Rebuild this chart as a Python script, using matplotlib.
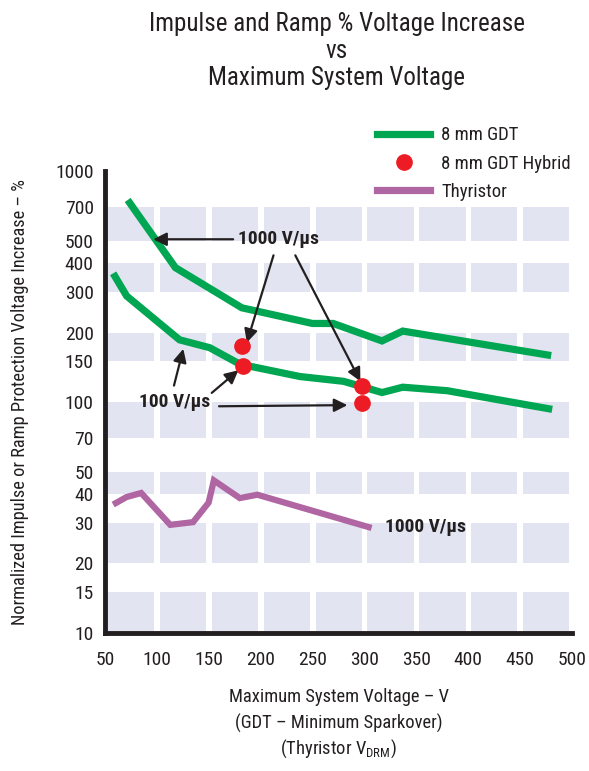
import matplotlib
matplotlib.use("Agg")
import matplotlib.pyplot as plt
from matplotlib.patches import Rectangle
from matplotlib.lines import Line2D

FONTS = ['Roboto Condensed', 'PT Sans Narrow', 'Liberation Sans', 'DejaVu Sans']
plt.rcParams['font.family'] = FONTS
plt.rcParams['mathtext.fontset'] = 'custom'
plt.rcParams['mathtext.rm'] = 'Roboto Condensed'

# ---- data ----
gdt_1000_x = [72, 118, 182, 250, 270, 317, 337, 480]
gdt_1000_y = [750, 382, 256, 219, 219, 184, 203, 159]

gdt_100_x = [58, 71, 122, 151, 180, 238, 280, 317, 337, 380, 481]
gdt_100_y = [361, 288, 186, 172, 146, 129, 123, 110, 116, 112, 93]

hybrid_x = [182, 183, 298, 298]
hybrid_y = [175, 143, 117, 99]

thy_x = [58, 71, 85, 113, 135, 150, 155, 180, 197, 307]
thy_y = [36, 38.8, 40.4, 29.4, 30.2, 36.7, 45.8, 38.4, 39.7, 28.5]

x_ticks = [50, 100, 150, 200, 250, 300, 350, 400, 450, 500]
y_ticks = [10, 15, 20, 30, 40, 50, 70, 100, 150, 200, 300, 400, 500, 700, 1000]
band_ranges = [(10, 15), (20, 30), (40, 50), (70, 100), (150, 200), (300, 400), (500, 700)]

x_label_lines = ['Maximum System Voltage – V', '(GDT – Minimum Sparkover)',
                 r'(Thyristor V$_{\mathregular{DRM}}$)']

GREEN = '#00A651'
RED = '#ED1C24'
PURPLE = '#B066A2'
BAND = '#E2E4F1'
INK = '#231F20'

fig = plt.figure(figsize=(5.89, 7.71), dpi=100)
ax = fig.add_axes([0.178, 0.179, 0.793, 0.599])
ax.set_yscale('log')
ax.set_xlim(50, 500)
ax.set_ylim(10, 1000)

# background bands
for lo, hi in band_ranges:
    for c in x_ticks[:-1]:
        ax.add_patch(Rectangle((c + 3, lo), 44.5, hi - lo, facecolor=BAND,
                               edgecolor='none', zorder=0))

ax.plot(gdt_1000_x, gdt_1000_y, color=GREEN, lw=5.2, solid_joinstyle='miter',
        solid_capstyle='butt', zorder=3)
ax.plot(gdt_100_x, gdt_100_y, color=GREEN, lw=5.2, solid_joinstyle='miter',
        solid_capstyle='butt', zorder=3)
ax.plot(hybrid_x, hybrid_y, 'o', color=RED, ms=11, zorder=4)
ax.plot(thy_x, thy_y, color=PURPLE, lw=4.5, solid_joinstyle='miter',
        solid_capstyle='butt', zorder=3)

# axes styling
for s in ['top', 'right']:
    ax.spines[s].set_visible(False)
for s in ['left', 'bottom']:
    ax.spines[s].set_linewidth(3.5)
    ax.spines[s].set_color(INK)
ax.set_xticks(x_ticks)
ax.set_xticklabels([str(v) for v in x_ticks])
ax.set_yticks(y_ticks)
ax.set_yticklabels([str(v) for v in y_ticks])
ax.yaxis.set_minor_locator(matplotlib.ticker.NullLocator())
ax.tick_params(axis='both', length=0, labelsize=14, colors=INK)
ax.tick_params(axis='x', pad=13)
ax.tick_params(axis='y', pad=8)

ax.set_ylabel('Normalized Impulse or Ramp Protection Voltage Increase – %',
              fontsize=13.2, color=INK, labelpad=19)

# x-axis label (three centred lines)
for i, line in enumerate(x_label_lines):
    fig.text(0.575, 1 - (697 + 26 * i) / 771, line, ha='center', va='center',
             fontsize=13.3, color=INK)

fig.text(0.572, 0.985, 'Impulse and Ramp % Voltage Increase\nvs\nMaximum System Voltage',
         ha='center', va='top', fontsize=18, color=INK, linespacing=1.18)

# legend
handles = [Line2D([], [], color=GREEN, lw=5.2),
           Line2D([], [], color=RED, marker='o', ms=11, ls='none'),
           Line2D([], [], color=PURPLE, lw=5.2)]
ax.legend(handles, ['8 mm GDT', '8 mm GDT Hybrid', 'Thyristor'],
          loc='upper left', bbox_to_anchor=(0.612, 0.858), bbox_transform=fig.transFigure,
          frameon=False, fontsize=13.5, handlelength=2.8, handletextpad=0.6,
          labelspacing=0.55, labelcolor=INK)

# annotations
ap = dict(arrowstyle='-|>', color=INK, lw=1.6, mutation_scale=20,
          shrinkA=0, shrinkB=0)
tk = dict(fontsize=14, fontweight='bold', color=INK, ha='center', va='center')
ax.text(217.5, 507, '1000 V/µs', **tk)
ax.annotate('', xy=(96.6, 507), xytext=(173.6, 507), arrowprops=ap)
ax.annotate('', xy=(186.8, 181), xytext=(212.5, 432), arrowprops=ap)
ax.annotate('', xy=(296.2, 123), xytext=(233.5, 432), arrowprops=ap)

ax.text(117.6, 100.5, '100 V/µs', **tk)
ax.annotate('', xy=(125.6, 170), xytext=(116.6, 117.9), arrowprops=ap)
ax.annotate('', xy=(178.7, 137.4), xytext=(153, 109.6), arrowprops=ap)
ax.annotate('', xy=(283.7, 97), xytext=(160, 95.9), arrowprops=ap)

ax.text(359, 28.8, '1000 V/µs', **tk)

fig.savefig('out.png', dpi=100)
